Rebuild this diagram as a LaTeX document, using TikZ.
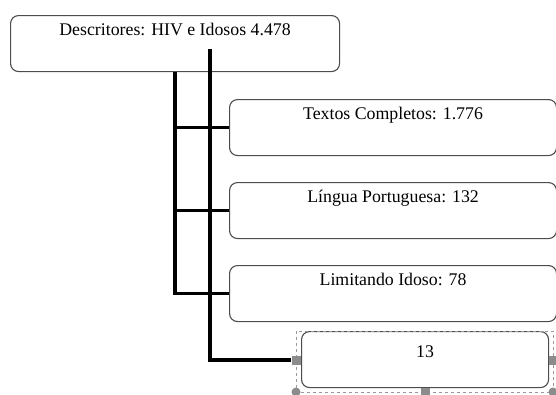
\documentclass[tikz,border=0pt]{standalone}
\usepackage{fontspec}
\setmainfont{Liberation Serif}

\begin{document}
\begin{tikzpicture}[x=1pt, y=-1pt, rounded corners=8pt,
		font=\fontsize{17.8}{20}\selectfont,
		caixa/.style={draw=black!70, line width=1.1pt, fill=white, anchor=north west,
			minimum width=#1, inner sep=0pt, text height=20pt, text depth=36pt},
		linha/.style={line width=3.6pt, sharp corners},
		alca/.style={fill=black!45, draw=none, minimum size=9pt, inner sep=0pt, sharp corners}]
		\useasboundingbox (0,0) rectangle (556,394);
		% caixas: x, y do canto superior esquerdo
		\node[caixa=329] (desc) at (10,15) {Descritores: HIV e Idosos 4.478};
		\node[caixa=327] (textos) at (229,99) {Textos Completos: 1.776};
		\node[caixa=327] (lingua) at (229,182) {L\'ingua Portuguesa: 132};
		\node[caixa=327] (limit) at (229,265) {Limitando Idoso: 78};
		\node[caixa=247, text height=26pt, text depth=30pt] (final) at (301,331) {13};
		% moldura de selecao em volta da ultima caixa
		\draw[dashed, black!40, line width=0.7pt, sharp corners] (296,331) rectangle (553,392);
		\node[alca] (alcaO) at (296,360) {};
		\node[alca] (alcaL) at (553,360) {};
		\node[alca] (alcaS) at (425,392) {};
		\node[alca, circle] (alcaSO) at (296,392) {};
		\node[alca, circle] (alcaSL) at (553,392) {};
		% linhas de ligacao
		\coordinate (ramoA) at (desc.south);
		\coordinate (ramoB) at (210,49);
		\draw[linha] (ramoA) |- (limit.west);
		\draw[linha] (ramoA |- textos.west) -- (textos.west);
		\draw[linha] (ramoA |- lingua.west) -- (lingua.west);
		\draw[linha] (ramoB) |- (alcaO.west);
	\end{tikzpicture}
\end{document}
